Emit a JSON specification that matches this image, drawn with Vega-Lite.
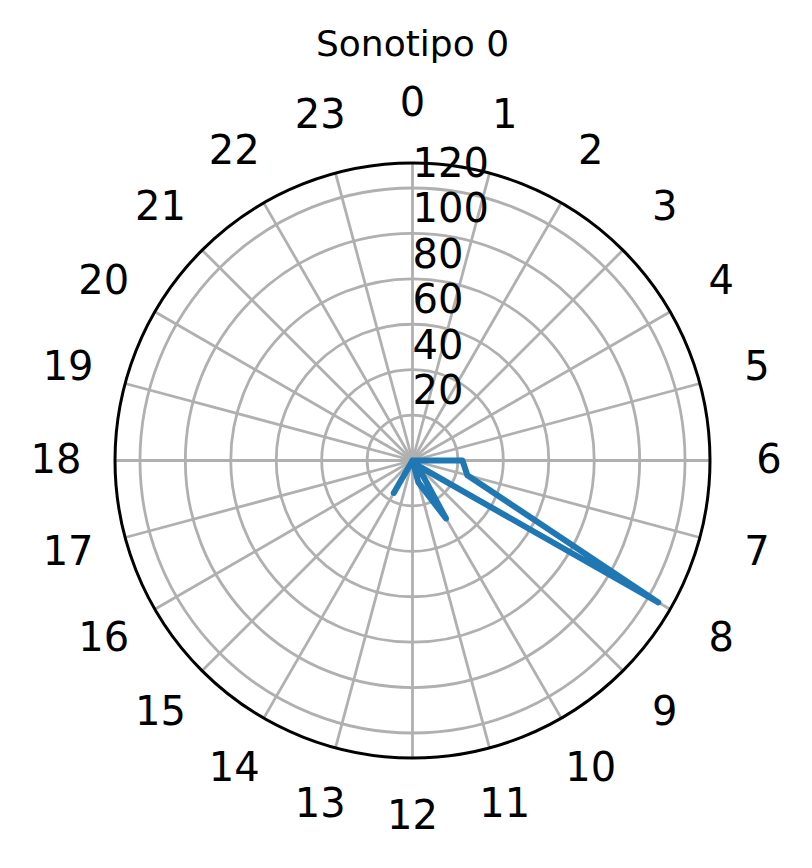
{
  "$schema": "https://vega.github.io/schema/vega-lite/v6.json",
  "width": 595,
  "height": 595,
  "autosize": {"type": "none"},
  "padding": {"left": 115, "top": 163, "right": 102, "bottom": 110},
  "background": "white",
  "config": {"view": {"stroke": null}, "font": "DejaVu Sans"},
  "title": {"text": "Sonotipo 0", "fontSize": 36, "fontWeight": "normal", "font": "DejaVu Sans", "color": "black", "anchor": "middle", "baseline": "alphabetic", "offset": -8},
  "datasets": {
    "rings": [{"r": 20}, {"r": 40}, {"r": 60}, {"r": 80}, {"r": 100}, {"r": 120}],
    "edge": [{"r": 131}],
    "hours": [{"hour": 0}, {"hour": 1}, {"hour": 2}, {"hour": 3}, {"hour": 4}, {"hour": 5}, {"hour": 6}, {"hour": 7}, {"hour": 8}, {"hour": 9}, {"hour": 10}, {"hour": 11}, {"hour": 12}, {"hour": 13}, {"hour": 14}, {"hour": 15}, {"hour": 16}, {"hour": 17}, {"hour": 18}, {"hour": 19}, {"hour": 20}, {"hour": 21}, {"hour": 22}, {"hour": 23}],
    "counts": [
      {"hour": 0, "count": 0}, {"hour": 1, "count": 0}, {"hour": 2, "count": 0}, {"hour": 3, "count": 0},
      {"hour": 4, "count": 0}, {"hour": 5, "count": 0}, {"hour": 6, "count": 22}, {"hour": 7, "count": 25},
      {"hour": 8, "count": 125}, {"hour": 9, "count": 3}, {"hour": 10, "count": 29.5}, {"hour": 11, "count": 10},
      {"hour": 12, "count": 0}, {"hour": 13, "count": 0}, {"hour": 14, "count": 16.5}, {"hour": 15, "count": 0},
      {"hour": 16, "count": 0}, {"hour": 17, "count": 0}, {"hour": 18, "count": 0}, {"hour": 19, "count": 0},
      {"hour": 20, "count": 0}, {"hour": 21, "count": 0}, {"hour": 22, "count": 0}, {"hour": 23, "count": 0}
    ]
  },
  "layer": [
    {
      "data": {"name": "rings"},
      "mark": {"type": "arc", "filled": false, "fill": null, "stroke": "#b0b0b0", "strokeWidth": 2.8, "theta": 0, "theta2": 6.2832},
      "encoding": {
        "radius": {"field": "r", "type": "quantitative", "stack": null, "scale": {"type": "linear", "domain": [0, 131], "range": [0, 297.5], "zero": true, "nice": false}}
      }
    },
    {
      "data": {"name": "hours"},
      "transform": [
        {"calculate": "0", "as": "cx"},
        {"calculate": "131*sin(datum.hour*PI/12)", "as": "ex"},
        {"calculate": "131*cos(datum.hour*PI/12)", "as": "ey"}
      ],
      "mark": {"type": "rule", "stroke": "#b0b0b0", "strokeWidth": 2.8},
      "encoding": {
        "x": {"field": "cx", "type": "quantitative", "scale": {"domain": [-131, 131], "nice": false, "zero": false}, "axis": null},
        "y": {"field": "cx", "type": "quantitative", "scale": {"domain": [-131, 131], "nice": false, "zero": false}, "axis": null},
        "x2": {"field": "ex"},
        "y2": {"field": "ey"}
      }
    },
    {
      "data": {"name": "counts"},
      "transform": [
        {"calculate": "datum.count*sin(datum.hour*PI/12)", "as": "px"},
        {"calculate": "datum.count*cos(datum.hour*PI/12)", "as": "py"}
      ],
      "mark": {"type": "line", "stroke": "#1f77b4", "strokeWidth": 6, "strokeCap": "round", "strokeJoin": "round"},
      "encoding": {
        "x": {"field": "px", "type": "quantitative", "scale": {"domain": [-131, 131], "nice": false, "zero": false}, "axis": null},
        "y": {"field": "py", "type": "quantitative", "scale": {"domain": [-131, 131], "nice": false, "zero": false}, "axis": null},
        "order": {"field": "hour", "type": "quantitative"}
      }
    },
    {
      "data": {"name": "edge"},
      "mark": {"type": "arc", "filled": false, "fill": null, "stroke": "black", "strokeWidth": 3, "theta": 0, "theta2": 6.2832},
      "encoding": {
        "radius": {"field": "r", "type": "quantitative", "stack": null, "scale": {"type": "linear", "domain": [0, 131], "range": [0, 297.5], "zero": true, "nice": false}}
      }
    },
    {
      "data": {"name": "hours"},
      "transform": [
        {"calculate": "157*sin(datum.hour*PI/12)", "as": "lx"},
        {"calculate": "157*cos(datum.hour*PI/12)", "as": "ly"}
      ],
      "mark": {"type": "text", "fontSize": 40, "font": "DejaVu Sans", "color": "black", "align": "center", "baseline": "middle"},
      "encoding": {
        "x": {"field": "lx", "type": "quantitative", "scale": {"domain": [-131, 131], "nice": false, "zero": false}, "axis": null},
        "y": {"field": "ly", "type": "quantitative", "scale": {"domain": [-131, 131], "nice": false, "zero": false}, "axis": null},
        "text": {"field": "hour", "type": "nominal"}
      }
    },
    {
      "data": {"name": "rings"},
      "transform": [{"calculate": "0", "as": "cx"}],
      "mark": {"type": "text", "fontSize": 40, "font": "DejaVu Sans", "color": "black", "align": "left", "baseline": "alphabetic", "dx": 0, "dy": -11},
      "encoding": {
        "x": {"field": "cx", "type": "quantitative", "scale": {"domain": [-131, 131], "nice": false, "zero": false}, "axis": null},
        "y": {"field": "r", "type": "quantitative", "scale": {"domain": [-131, 131], "nice": false, "zero": false}, "axis": null},
        "text": {"field": "r", "type": "nominal"}
      }
    }
  ]
}
